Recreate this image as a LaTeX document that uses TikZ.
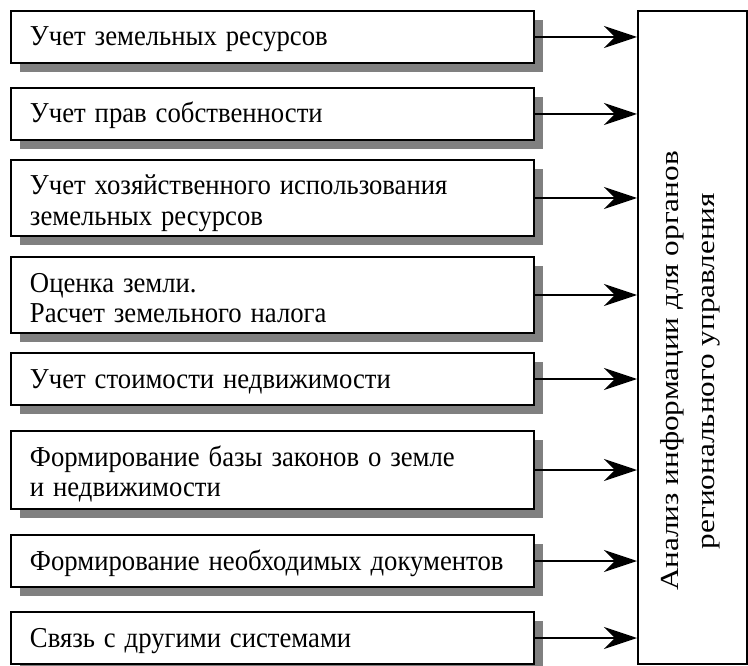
\documentclass[tikz,border=0pt]{standalone}
\usepackage{fontspec}
\setmainfont{Liberation Serif}
\usetikzlibrary{arrows.meta,shadows}
\newcommand\boxtxt[2]{\raisebox{0pt}[35pt][\dimexpr#1pt-35pt\relax]{\scalebox{1}[1.08]{\begin{tabular}[t]{@{}l@{}}#2\end{tabular}}}}
\newcommand\vtxt[1]{\scalebox{1.2}[1]{#1}}
\begin{document}
\begin{tikzpicture}[x=1pt,y=-1pt,
  boxstyle/.style={draw,line width=2pt,fill=white,minimum width=523pt,text width=485pt,inner xsep=19pt,inner ysep=0pt,align=left,
    font=\fontsize{26.7}{27.8}\selectfont,anchor=center,
    drop shadow={shadow xshift=9pt,shadow yshift=-9pt,fill=black!50,opacity=1}},
  bigbox/.style={draw,line width=2pt,fill=white,minimum width=109pt,minimum height=653pt,inner sep=0pt},
  vtext/.style={rotate=90,align=center,font=\fontsize{26}{36}\selectfont,inner sep=0pt},
  arr/.style={line width=2pt,-{Stealth[length=33pt,width=22pt,inset=11pt]}}]
\useasboundingbox (0,0) rectangle (748,666);
\node[boxstyle,minimum height=52pt] (b1) at (272.5,37) {\boxtxt{52}{Учет земельных ресурсов}};
\node[boxstyle,minimum height=52pt] (b2) at (272.5,114) {\boxtxt{52}{Учет прав собственности}};
\node[boxstyle,minimum height=76pt] (b3) at (272.5,198) {\boxtxt{76}{Учет хозяйственного использования\\земельных ресурсов}};
\node[boxstyle,minimum height=76pt] (b4) at (272.5,295) {\boxtxt{76}{Оценка земли.\\Расчет земельного налога}};
\node[boxstyle,minimum height=52pt] (b5) at (272.5,379) {\boxtxt{52}{Учет стоимости недвижимости}};
\node[boxstyle,minimum height=78pt] (b6) at (272.5,470) {\boxtxt{78}{Формирование базы законов о земле\\и недвижимости}};
\node[boxstyle,minimum height=52pt] (b7) at (272.5,561) {\boxtxt{52}{Формирование необходимых документов}};
\node[boxstyle,minimum height=52pt] (b8) at (272.5,638) {\boxtxt{52}{Связь с другими системами}};
\node[bigbox] (r) at (692.5,337.5) {};
\node[vtext] (rt) at (690,371) {\vtxt{Анализ информации для органов}\\\vtxt{регионального управления}};
\foreach \b in {b1,b2,b3,b4,b5,b6,b7,b8}
  \draw[arr] (\b.east) -- (\b.east -| r.west);
\end{tikzpicture}
\end{document}
